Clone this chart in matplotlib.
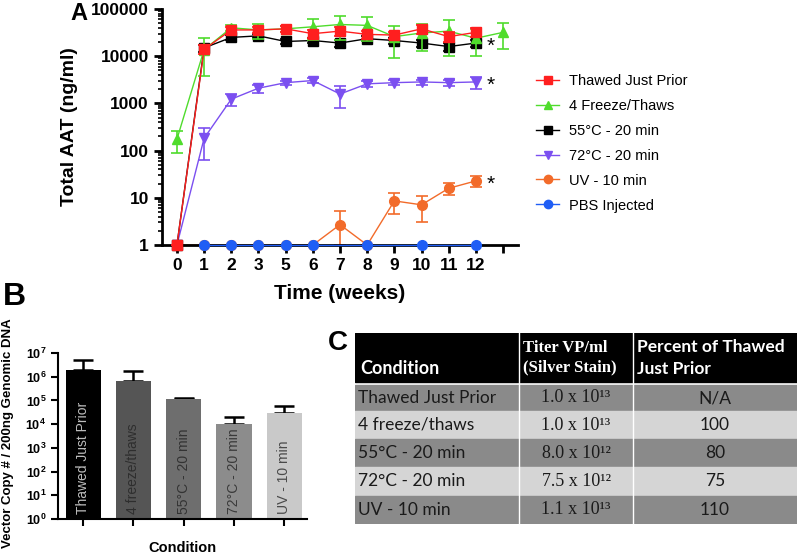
import numpy as np
import matplotlib
matplotlib.use("Agg")
import matplotlib.pyplot as plt
from matplotlib.lines import Line2D
from matplotlib.patches import Rectangle
from matplotlib.ticker import LogLocator, NullFormatter

plt.rcParams['font.family'] = ['Liberation Sans', 'DejaVu Sans']
plt.rcParams['mathtext.fontset'] = 'custom'
plt.rcParams['mathtext.rm'] = 'Liberation Sans'
plt.rcParams['mathtext.bf'] = 'Liberation Sans:bold'

# ---- panel A data (Total AAT, ng/ml) ----
week_labels = ["0", "1", "2", "3", "5", "6", "7", "8", "9", "10", "11", "12", ""]

thawed = [1, 14000, 36000, 36000, 38000, 30000, 34000, 29000, 28000, 38000, 26000, 32000]
thawed_sem = [0, 3000, 6000, 5000, 5000, 6000, 7000, 6000, 5000, 8000, 6000, 7000]

freeze = [175, 13800, 40000, 36000, 38000, 42000, 47000, 45000, 26000, 31000, 34000, 24000, 32000]
freeze_sem = [85, 10000, 6000, 13000, 5000, 20000, 25000, 24000, 17000, 18000, 24000, 14000, 18000]

c55 = [1, 15000, 25000, 27000, 20500, 21500, 19000, 23500, 21500, 19000, 16000, 19000]
c55_sem = [0, 2500, 3000, 3000, 2500, 2500, 3000, 3000, 3000, 3000, 3000, 3500]

c72 = [1, 183, 1230, 2100, 2750, 3050, 1580, 2600, 2750, 2850, 2750, 2850]
c72_sem = [0, 120, 350, 400, 300, 400, 780, 400, 350, 350, 400, 800]

uv = [1, 1, 1, 1, 1, 1, 2.7, 1, 8.6, 7.1, 15.9, 22.8]
uv_sem = [0, 0, 0, 0, 0, 0, 2.6, 0, 4.1, 4.0, 4.5, 6.0]

pbs_idx = [1, 2, 3, 4, 5, 7, 9, 11]
pbs = [1, 1, 1, 1, 1, 1, 1, 1]

# ---- panel B data ----
bar_names = ["Thawed Just Prior", "4 freeze/thaws", "55°C - 20 min", "72°C - 20 min", "UV - 10 min"]
copies = [1.9e6, 6.5e5, 1.1e5, 1.0e4, 3.0e4]
copies_sem = [3.0e6, 1.15e6, 2.0e4, 1.0e4, 3.0e4]
bar_colors = ["#000000", "#555555", "#6e6e6e", "#8c8c8c", "#c9c9c9"]
bar_text_colors = ["#bdbdbd", "#2e2e2e", "#333333", "#3a3a3a", "#4a4a4a"]

# ---- panel C data ----
tbl_header = ["Condition", "Titer VP/ml\n(Silver Stain)", "Percent of Thawed\nJust Prior"]
tbl_cond = ["Thawed Just Prior", "4 freeze/thaws", "55°C - 20 min", "72°C - 20 min", "UV - 10 min"]
tbl_titer = ["1.0 x 10¹³", "1.0 x 10¹³", "8.0 x 10¹²", "7.5 x 10¹²", "1.1 x 10¹³"]
tbl_pct = ["N/A", "100", "80", "75", "110"]

W, H = 800, 559
fig = plt.figure(figsize=(8, 5.59), dpi=100)


def px_axes(l, t, r, b):
    return fig.add_axes([l / W, 1 - b / H, (r - l) / W, (b - t) / H])


# ================= A =================
ax = px_axes(162, 9, 518, 245)
series = [
    (uv, uv_sem, "#f26b2a", "o", "UV - 10 min", 2),
    (c72, c72_sem, "#7b4ff0", "v", "72°C - 20 min", 3),
    (c55, c55_sem, "#000000", "s", "55°C - 20 min", 4),
    (freeze, freeze_sem, "#4fdc2c", "^", "4 Freeze/Thaws", 5),
    (thawed, thawed_sem, "#ff1f1f", "s", "Thawed Just Prior", 7),
]
for vals, sem, col, mk, lab, z in series:
    x = np.arange(len(vals))
    v = np.array(vals, dtype=float)
    s = np.array(sem, dtype=float)
    lo = np.minimum(s, v - 1)
    ax.errorbar(x, v, yerr=[lo, s], color=col, marker=mk, ms=7, lw=1.0,
                elinewidth=1.2, capsize=4, capthick=1.2, zorder=z, clip_on=False)
ax.plot(pbs_idx, pbs, color="#1f5ef5", marker="o", ms=7, lw=1.0, zorder=6, clip_on=False)

# significance marks
for vals in (c55, c72, uv):
    ax.text(len(vals) - 1 + 0.55, vals[-1] * 0.85, "*", fontsize=15, ha="center", va="center")

ax.set_yscale("log")
ax.set_ylim(1, 100000)
ax.set_xlim(-0.55, 12.55)
ax.set_yticks([1, 10, 100, 1000, 10000, 100000])
ax.set_yticklabels(["1", "10", "100", "1000", "10000", "100000"])
ax.yaxis.set_minor_locator(LogLocator(base=10, subs=np.arange(2, 10)))
ax.yaxis.set_minor_formatter(NullFormatter())
ax.set_xticks(np.arange(len(week_labels)))
ax.set_xticklabels(week_labels)
for sp in ("top", "right"):
    ax.spines[sp].set_visible(False)
for sp in ("left", "bottom"):
    ax.spines[sp].set_linewidth(2.0)
ax.tick_params(which="major", width=2.0, length=6, labelsize=12.5)
ax.tick_params(which="minor", width=1.2, length=3)
for t in ax.get_xticklabels() + ax.get_yticklabels():
    t.set_fontweight("bold")
ax.set_xlabel("Time (weeks)", fontsize=15, fontweight="bold", labelpad=8)
ax.set_ylabel("Total AAT (ng/ml)", fontsize=14, fontweight="bold", labelpad=9)
fig.text(70 / W, 1 - 13 / H, "A", fontsize=17, fontweight="bold", va="center")

handles = []
for vals, sem, col, mk, lab, z in series[::-1]:
    handles.append(Line2D([], [], color=col, marker=mk, ms=6, lw=1.0, label=lab))
handles.append(Line2D([], [], color="#1f5ef5", marker="o", ms=6, lw=1.0, label="PBS Injected"))
fig.legend(handles=handles, loc="upper left", bbox_to_anchor=(530 / W, 1 - 68 / H),
           frameon=False, fontsize=10.5, handlelength=1.6, labelspacing=0.75,
           handletextpad=0.7, borderaxespad=0)

# ================= B =================
bx = px_axes(58, 353, 307, 519)
xb = np.arange(len(copies))
bx.bar(xb, copies, width=0.7, color=bar_colors, zorder=2)
bx.errorbar(xb, copies, yerr=[np.zeros(len(copies)), copies_sem], fmt="none",
            ecolor="black", elinewidth=1.8, capsize=7, capthick=1.8, zorder=1)
for i, name in enumerate(bar_names):
    bx.text(xb[i], 1.6, name, rotation=90, ha="center", va="bottom",
            fontsize=10, color=bar_text_colors[i], zorder=3)
bx.set_yscale("log")
bx.set_ylim(1, 1e7)
bx.set_xlim(-0.5, 4.45)
bx.set_yticks([10.0 ** k for k in range(8)])
bx.set_yticklabels([r"$\mathbf{10^{%d}}$" % k for k in range(8)])
bx.yaxis.set_minor_locator(LogLocator(base=10, subs=np.arange(2, 10)))
bx.yaxis.set_minor_formatter(NullFormatter())
bx.set_xticks(xb)
bx.set_xticklabels([])
for sp in ("top", "right"):
    bx.spines[sp].set_visible(False)
for sp in ("left", "bottom"):
    bx.spines[sp].set_linewidth(1.5)
bx.tick_params(which="major", width=1.5, length=5, labelsize=9)
bx.tick_params(which="minor", width=1.0, length=2.5)
bx.set_xlabel("Condition", fontsize=10.5, fontweight="bold", labelpad=7)
bx.set_ylabel("Vector Copy # / 200ng Genomic DNA", fontsize=9.5, fontweight="bold")
bx.yaxis.set_label_coords(-44 / 249, 0.52)
fig.text(3 / W, 1 - 297 / H, "B", fontsize=23, fontweight="bold", va="center")

# ================= C =================
cx = px_axes(355, 333, 797, 524)
cx.set_xlim(0, 442)
cx.set_ylim(191, 0)
cx.axis("off")
col_edges = [0, 164, 278, 442]
row_edges = [52, 78, 106, 134, 163, 191]
cx.add_patch(Rectangle((0, 0), 442, 49, color="black"))
for r in range(len(tbl_cond)):
    y0 = row_edges[r]
    h = row_edges[r + 1] - y0 - 1.5
    cx.add_patch(Rectangle((0, y0), 442, h, color="#8a8a8a" if r % 2 == 0 else "#d5d5d5"))
for xe in col_edges[1:-1]:
    cx.plot([xe, xe], [0, 191], color="white", lw=1.0)

cx.text(5, 44, tbl_header[0], color="white", fontsize=13, fontweight="bold",
        family="Lato", va="bottom")
cx.text(col_edges[1] + 4, 25, tbl_header[1], color="white", fontsize=12, fontweight="bold",
        family="Liberation Serif", va="center", linespacing=1.3)
cx.text(col_edges[2] + 4, 25, tbl_header[2], color="white", fontsize=12.5, fontweight="bold",
        family="Lato", va="center", linespacing=1.5)
for r in range(len(tbl_cond)):
    yc = (row_edges[r] + row_edges[r + 1]) / 2
    cx.text(3, yc, tbl_cond[r], fontsize=12.5, family="Lato", va="center", color="#1a1a1a")
    cx.text((col_edges[1] + col_edges[2]) / 2, yc, tbl_titer[r], fontsize=13,
            family="Liberation Serif", ha="center", va="center", color="#1a1a1a")
    cx.text((col_edges[2] + col_edges[3]) / 2, yc, tbl_pct[r], fontsize=12.5,
            family="Lato", ha="center", va="center", color="#1a1a1a")
fig.text(328 / W, 1 - 343 / H, "C", fontsize=20, fontweight="bold", va="center")

fig.savefig("out.png", dpi=100)
